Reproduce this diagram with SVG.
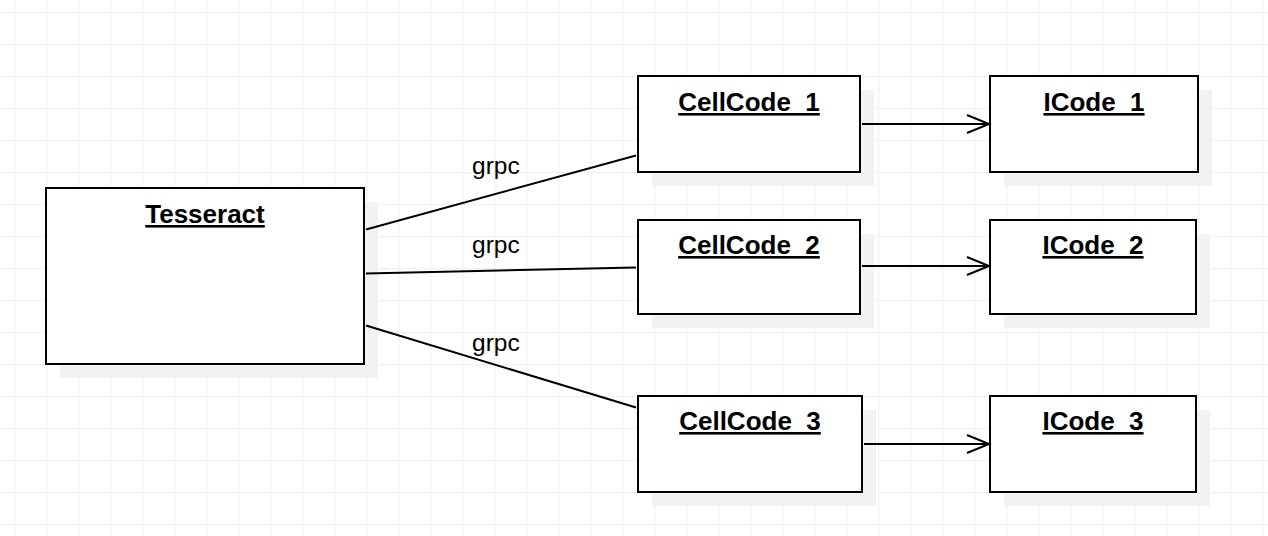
<svg xmlns="http://www.w3.org/2000/svg" width="1268" height="536" viewBox="0 0 1268 536">
<defs>
<pattern id="grid" x="14" y="12" width="32" height="32" patternUnits="userSpaceOnUse">
<path d="M0.5 0V32M0 0.5H32" fill="none" stroke="#f1f1f1" stroke-width="1.5"/>
</pattern>
<marker id="open" markerWidth="26" markerHeight="22" refX="23" refY="11" orient="auto" markerUnits="userSpaceOnUse">
<path d="M1 2L23 11L1 20" fill="none" stroke="#000" stroke-width="2"/>
</marker>
</defs>
<style>
.box{fill:#fff;stroke:#000;stroke-width:2}
.sh{fill:#f2f2f2}
.title{font-family:"Liberation Sans",Arial,sans-serif;font-weight:bold;font-size:26px;text-anchor:middle;text-decoration:underline}
.lbl{font-family:"Liberation Sans",Arial,sans-serif;font-size:24.5px}
.edge{stroke:#000;stroke-width:2;fill:none}
</style>
<rect width="1268" height="536" fill="#fff"/>
<rect width="1268" height="536" fill="url(#grid)"/>
<g id="Tesseract">
<rect class="sh" x="60" y="202" width="318" height="176"/>
<rect class="box" x="46" y="188" width="318" height="176"/>
<text class="title" x="205" y="223">Tesseract</text>
</g>
<g id="CellCode_1">
<rect class="sh" x="652" y="90" width="222" height="96"/>
<rect class="box" x="638" y="76" width="222" height="96"/>
<text class="title" x="749" y="111">CellCode_1</text>
</g>
<g id="CellCode_2">
<rect class="sh" x="652" y="234" width="222" height="94"/>
<rect class="box" x="638" y="220" width="222" height="94"/>
<text class="title" x="749" y="254">CellCode_2</text>
</g>
<g id="CellCode_3">
<rect class="sh" x="652" y="410" width="224" height="96"/>
<rect class="box" x="638" y="396" width="224" height="96"/>
<text class="title" x="750" y="430">CellCode_3</text>
</g>
<g id="ICode_1">
<rect class="sh" x="1004" y="90" width="208" height="96"/>
<rect class="box" x="990" y="76" width="208" height="96"/>
<text class="title" x="1094" y="111">ICode_1</text>
</g>
<g id="ICode_2">
<rect class="sh" x="1004" y="234" width="206" height="94"/>
<rect class="box" x="990" y="220" width="206" height="94"/>
<text class="title" x="1093" y="254">ICode_2</text>
</g>
<g id="ICode_3">
<rect class="sh" x="1004" y="410" width="206" height="96"/>
<rect class="box" x="990" y="396" width="206" height="96"/>
<text class="title" x="1093" y="430">ICode_3</text>
</g>
<g id="connectors">
<line class="edge" x1="366" y1="229.5" x2="636" y2="155.5"/>
<line class="edge" x1="366" y1="273.5" x2="636" y2="267.5"/>
<line class="edge" x1="366" y1="325.5" x2="636" y2="407.5"/>
<text class="lbl" x="472" y="174">grpc</text>
<text class="lbl" x="472" y="253">grpc</text>
<text class="lbl" x="472" y="351">grpc</text>
<line class="edge" x1="862" y1="124" x2="989" y2="124" marker-end="url(#open)"/>
<line class="edge" x1="862" y1="266" x2="989" y2="266" marker-end="url(#open)"/>
<line class="edge" x1="864" y1="444" x2="989" y2="444" marker-end="url(#open)"/>
</g>
</svg>
